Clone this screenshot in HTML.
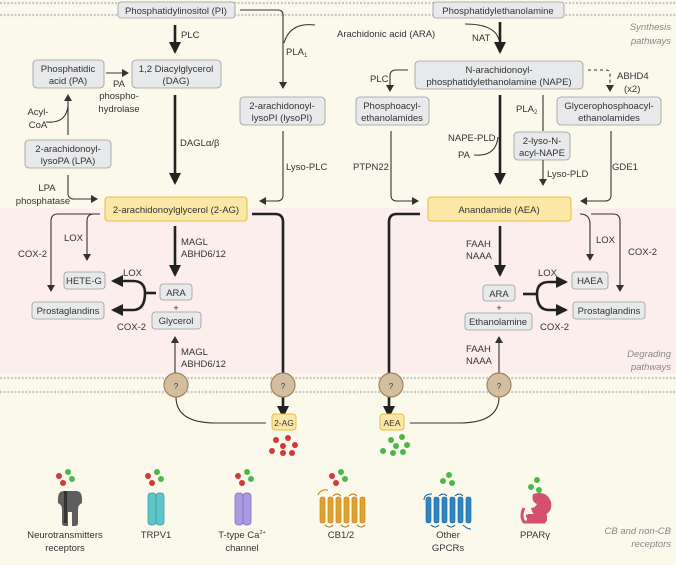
<!DOCTYPE html>
<html><head><meta charset="utf-8"><style>
html,body{margin:0;padding:0;background:#fbf9ec;}
svg{display:block;font-family:"Liberation Sans",sans-serif;}
text{font-size:9.5px;fill:#333;}
.b{fill:#e8e9eb;stroke:#9a9a9a;stroke-width:0.8;}
.y{fill:#fbe7a6;stroke:#e5be45;stroke-width:1;}
.l{fill:none;stroke:#333;stroke-width:1.1;}
.t{fill:none;stroke:#222;stroke-width:2.6;}
.it{font-style:italic;fill:#888;}
.m{stroke:#c8c8c8;stroke-width:2.2;stroke-dasharray:2 1.6;}
.q{fill:#d3bf9f;stroke:#9e8460;stroke-width:1.2;}
</style></head><body>
<svg width="676" height="565" viewBox="0 0 676 565">
<defs>
<marker id="a" markerWidth="8" markerHeight="8" refX="6" refY="4" orient="auto" markerUnits="userSpaceOnUse"><path d="M0,0L7,4L0,8z" fill="#333"/></marker>
<marker id="A" markerWidth="14" markerHeight="12" refX="10" refY="6" orient="auto" markerUnits="userSpaceOnUse"><path d="M0,0L12,6L0,12z" fill="#222"/></marker>
</defs>
<rect x="0" y="0" width="676" height="208" fill="#fbf9ec"/>
<rect x="0" y="208" width="676" height="166" fill="#fdeeee"/>
<rect x="0" y="374" width="676" height="191" fill="#fbf9ec"/>
<line class="m" x1="0" y1="3" x2="676" y2="3"/><line class="m" x1="0" y1="15" x2="676" y2="15"/>
<line class="m" x1="0" y1="378" x2="676" y2="378"/><line class="m" x1="0" y1="392" x2="676" y2="392"/>

<!-- top boxes -->
<rect class="b" x="118" y="2" width="117" height="16" rx="3"/><text x="176" y="14" text-anchor="middle">Phosphatidylinositol (PI)</text>
<rect class="b" x="433" y="2" width="131" height="16" rx="3"/><text x="498" y="14" text-anchor="middle">Phosphatidylethanolamine</text>
<text class="it" x="671" y="30" text-anchor="end">Synthesis</text><text class="it" x="671" y="44" text-anchor="end">pathways</text>

<!-- left synthesis -->
<path class="t" d="M175,25V52" marker-end="url(#A)"/><text x="181" y="38">PLC</text>
<path class="l" d="M240,10H278q5,0 5,5V88" marker-end="url(#a)"/>
<path class="l" d="M315,25q-25,-3 -31,18"/><text x="286" y="55">PLA<tspan font-size="6" dy="2">1</tspan></text>
<text x="337" y="37">Arachidonic acid (ARA)</text>
<rect class="b" x="33" y="60" width="71" height="28" rx="4"/><text x="68" y="72" text-anchor="middle">Phosphatidic</text><text x="68" y="84" text-anchor="middle">acid (PA)</text>
<rect class="b" x="132" y="60" width="89" height="28" rx="4"/><text x="176" y="72" text-anchor="middle">1,2 Diacylglycerol</text><text x="176" y="84" text-anchor="middle">(DAG)</text>
<path class="l" d="M106,73H128" marker-end="url(#a)"/>
<text x="119" y="87" text-anchor="middle">PA</text><text x="119" y="99" text-anchor="middle">phospho-</text><text x="119" y="112" text-anchor="middle">hydrolase</text>
<path class="t" d="M175,95V183" marker-end="url(#A)"/><text x="180" y="146">DAGLα/β</text>
<rect class="b" x="240" y="97" width="85" height="28" rx="4"/><text x="282" y="109" text-anchor="middle">2-arachidonoyl-</text><text x="282" y="121" text-anchor="middle">lysoPI (lysoPI)</text>
<path class="l" d="M283,131V195q0,6 -6,6H260" marker-end="url(#a)"/><text x="286" y="170">Lyso-PLC</text>
<rect class="b" x="25" y="140" width="86" height="28" rx="4"/><text x="68" y="152" text-anchor="middle">2-arachidonoyl-</text><text x="68" y="164" text-anchor="middle">lysoPA (LPA)</text>
<path class="l" d="M68,135V95" marker-end="url(#a)"/>
<path class="l" d="M46,122q20,2 22,-16"/>
<text x="38" y="115" text-anchor="middle">Acyl-</text><text x="38" y="128" text-anchor="middle">CoA</text>
<path class="l" d="M68,175V193q0,6 6,6H97" marker-end="url(#a)"/>
<text x="47" y="191" text-anchor="middle">LPA</text><text x="43" y="204" text-anchor="middle">phosphatase</text>
<rect class="y" x="105" y="197" width="142" height="24" rx="3"/><text x="176" y="213" text-anchor="middle">2-arachidonoylglycerol (2-AG)</text>

<!-- right synthesis -->
<path class="t" d="M500,22V52" marker-end="url(#A)"/><path class="l" d="M465,24q30,0 34,16"/><text x="472" y="41">NAT</text>
<rect class="b" x="415" y="61" width="168" height="28" rx="4"/><text x="499" y="73" text-anchor="middle">N-arachidonoyl-</text><text x="499" y="85" text-anchor="middle">phosphatidylethanolamine (NAPE)</text>
<path class="l" d="M408,70H396q-6,0 -6,6V91" marker-end="url(#a)"/><text x="370" y="82">PLC</text>
<path class="l" d="M588,70H606q4,0 4,4V91" stroke-dasharray="3 3" marker-end="url(#a)"/>
<text x="617" y="79">ABHD4</text><text x="624" y="92">(x2)</text>
<rect class="b" x="356" y="97" width="73" height="28" rx="4"/><text x="392" y="109" text-anchor="middle">Phosphoacyl-</text><text x="392" y="121" text-anchor="middle">ethanolamides</text>
<rect class="b" x="557" y="97" width="104" height="28" rx="4"/><text x="609" y="109" text-anchor="middle">Glycerophosphoacyl-</text><text x="609" y="121" text-anchor="middle">ethanolamides</text>
<path class="t" d="M500,95V183" marker-end="url(#A)"/><text x="448" y="141">NAPE-PLD</text><text x="458" y="158">PA</text>
<path class="l" d="M474,155q22,2 24,-18"/>
<path class="l" d="M543,95V131"/><text x="516" y="112">PLA<tspan font-size="6" dy="2">2</tspan></text>
<rect class="b" x="514" y="132" width="56" height="28" rx="4"/><text x="542" y="144" text-anchor="middle">2-lyso-N-</text><text x="542" y="156" text-anchor="middle">acyl-NAPE</text>
<path class="l" d="M543,160V185" marker-end="url(#a)"/><text x="547" y="177">Lyso-PLD</text>
<path class="l" d="M391,131V195q0,6 6,6H418" marker-end="url(#a)"/><text x="353" y="170">PTPN22</text>
<path class="l" d="M611,131V195q0,6 -6,6H581" marker-end="url(#a)"/><text x="612" y="170">GDE1</text>
<rect class="y" x="428" y="197" width="143" height="24" rx="3"/><text x="499" y="213" text-anchor="middle">Anandamide (AEA)</text>

<!-- left degradation -->
<path class="l" d="M97,214H58q-7,0 -7,7V291" marker-end="url(#a)"/>
<path class="l" d="M100,214H94q-7,0 -7,7V260" marker-end="url(#a)"/>
<text x="18" y="257">COX-2</text><text x="64" y="241">LOX</text>
<path class="t" d="M175,226V275" marker-end="url(#A)"/><text x="181" y="245">MAGL</text><text x="181" y="257">ABHD6/12</text>
<rect class="b" x="64" y="272" width="41" height="17" rx="3"/><text x="84" y="284" text-anchor="middle">HETE-G</text>
<rect class="b" x="32" y="302" width="72" height="17" rx="3"/><text x="68" y="314" text-anchor="middle">Prostaglandins</text>
<rect class="b" x="160" y="284" width="32" height="16" rx="3"/><text x="176" y="296" text-anchor="middle">ARA</text>
<text x="176" y="311" text-anchor="middle">+</text>
<rect class="b" x="152" y="312" width="49" height="17" rx="3"/><text x="176" y="324" text-anchor="middle">Glycerol</text>
<path class="t" d="M156,293H145"/><path class="t" d="M145,293q0,-12 -12,-12H113" marker-end="url(#A)"/><path class="t" d="M145,293q0,17 -12,17H113" marker-end="url(#A)"/>
<text x="123" y="276">LOX</text><text x="117" y="330">COX-2</text>
<path class="l" d="M175,373V337" marker-end="url(#a)"/><text x="181" y="355">MAGL</text><text x="181" y="367">ABHD6/12</text>
<path class="t" d="M252,214H275q8,0 8,8V416" marker-end="url(#A)"/>
<path class="l" d="M176,397q0,26 40,26H266"/>
<rect class="y" x="272" y="414" width="24" height="16" rx="3"/><text x="284" y="426" text-anchor="middle" style="font-size:8.5px">2-AG</text>
<circle class="q" cx="176" cy="385" r="12"/><text x="176" y="389" text-anchor="middle" style="font-size:8px">?</text>
<circle class="q" cx="283" cy="385" r="12"/><text x="283" y="389" text-anchor="middle" style="font-size:8px">?</text>
<g fill="#d33a35"><circle cx="276" cy="440" r="3"/><circle cx="288" cy="438" r="3"/><circle cx="283" cy="446" r="3"/><circle cx="295" cy="445" r="3"/><circle cx="272" cy="451" r="3"/><circle cx="283" cy="453" r="3"/><circle cx="292" cy="453" r="3"/></g>

<!-- right degradation -->
<path class="t" d="M420,214H397q-8,0 -8,8V416" marker-end="url(#A)"/>
<path class="t" d="M500,226V275" marker-end="url(#A)"/><text x="466" y="247">FAAH</text><text x="466" y="259">NAAA</text>
<rect class="b" x="483" y="285" width="32" height="16" rx="3"/><text x="499" y="297" text-anchor="middle">ARA</text>
<text x="499" y="311" text-anchor="middle">+</text>
<rect class="b" x="465" y="313" width="67" height="17" rx="3"/><text x="498" y="325" text-anchor="middle">Ethanolamine</text>
<path class="t" d="M523,294H537"/><path class="t" d="M537,294q0,-12 12,-12H566" marker-end="url(#A)"/><path class="t" d="M537,294q0,16 12,16H566" marker-end="url(#A)"/>
<text x="538" y="276">LOX</text><text x="540" y="330">COX-2</text>
<rect class="b" x="572" y="272" width="36" height="17" rx="3"/><text x="590" y="284" text-anchor="middle">HAEA</text>
<rect class="b" x="573" y="302" width="72" height="17" rx="3"/><text x="609" y="314" text-anchor="middle">Prostaglandins</text>
<path class="l" d="M580,214q10,0 10,10V260" marker-end="url(#a)"/>
<path class="l" d="M591,214H613q7,0 7,7V291" marker-end="url(#a)"/>
<text x="596" y="243">LOX</text><text x="628" y="255">COX-2</text>
<path class="l" d="M499,373V337" marker-end="url(#a)"/><text x="466" y="352">FAAH</text><text x="466" y="364">NAAA</text>
<text class="it" x="671" y="357" text-anchor="end">Degrading</text><text class="it" x="671" y="370" text-anchor="end">pathways</text>
<path class="l" d="M499,397q0,26 -40,26H410"/>
<rect class="y" x="380" y="414" width="24" height="16" rx="3"/><text x="392" y="426" text-anchor="middle" style="font-size:8.5px">AEA</text>
<circle class="q" cx="391" cy="385" r="12"/><text x="391" y="389" text-anchor="middle" style="font-size:8px">?</text>
<circle class="q" cx="499" cy="385" r="12"/><text x="499" y="389" text-anchor="middle" style="font-size:8px">?</text>
<g fill="#4db748"><circle cx="391" cy="440" r="3"/><circle cx="402" cy="437" r="3"/><circle cx="396" cy="446" r="3"/><circle cx="407" cy="445" r="3"/><circle cx="383" cy="451" r="3"/><circle cx="393" cy="453" r="3"/><circle cx="403" cy="452" r="3"/></g>

<!-- receptors -->
<g id="dots">
<g fill="#d33a35"><circle cx="59" cy="476" r="3"/><circle cx="63" cy="483" r="3"/><circle cx="148" cy="476" r="3"/><circle cx="152" cy="483" r="3"/><circle cx="238" cy="476" r="3"/><circle cx="242" cy="483" r="3"/><circle cx="332" cy="476" r="3"/><circle cx="336" cy="483" r="3"/></g>
<g fill="#4db748"><circle cx="68" cy="472" r="3"/><circle cx="72" cy="479" r="3"/><circle cx="157" cy="472" r="3"/><circle cx="161" cy="479" r="3"/><circle cx="247" cy="472" r="3"/><circle cx="251" cy="479" r="3"/><circle cx="341" cy="472" r="3"/><circle cx="345" cy="479" r="3"/><circle cx="449" cy="475" r="3"/><circle cx="443" cy="481" r="3"/><circle cx="452" cy="483" r="3"/><circle cx="537" cy="480" r="3"/><circle cx="531" cy="487" r="3"/><circle cx="539" cy="490" r="3"/></g>
</g>
<!-- neurotransmitter -->
<path d="M56,491h20q6,0 6,8v4q-4,2 -4,6v14q0,3 -3,3h-3v-14h-4v14h-3q-3,0 -3,-3v-14q0,-4 -4,-6v-4q0,-8 6,-8z" fill="#5e5e5e"/><rect x="64" y="491" width="3" height="32" fill="#333"/>
<!-- TRPV1 -->
<rect x="148" y="493" width="8" height="32" rx="3" fill="#5fc5c9" stroke="#3a9ea2" stroke-width="0.8"/><rect x="156" y="493" width="8" height="32" rx="3" fill="#5fc5c9" stroke="#3a9ea2" stroke-width="0.8"/>
<!-- T-type -->
<rect x="235" y="493" width="8" height="32" rx="3" fill="#a99be0" stroke="#7d6fc0" stroke-width="0.8"/><rect x="243" y="493" width="8" height="32" rx="3" fill="#a99be0" stroke="#7d6fc0" stroke-width="0.8"/>
<!-- CB1/2 -->
<g fill="#e0a330" stroke="#b57c17" stroke-width="0.6"><rect x="320" y="497" width="5" height="26" rx="2"/><rect x="328" y="497" width="5" height="26" rx="2"/><rect x="336" y="497" width="5" height="26" rx="2"/><rect x="344" y="497" width="5" height="26" rx="2"/><rect x="352" y="497" width="5" height="26" rx="2"/><rect x="360" y="497" width="5" height="26" rx="2"/></g>
<path d="M318,495q2,-6 10,-5M325,525q4,4 8,0M341,525q4,4 8,0M357,525q4,4 8,0M333,496q4,-4 8,0M349,496q4,-4 8,0" fill="none" stroke="#b57c17" stroke-width="1"/>
<!-- GPCR -->
<g fill="#2f86c2" stroke="#1e5f90" stroke-width="0.6"><rect x="426" y="497" width="5" height="26" rx="2"/><rect x="434" y="497" width="5" height="26" rx="2"/><rect x="442" y="497" width="5" height="26" rx="2"/><rect x="450" y="497" width="5" height="26" rx="2"/><rect x="458" y="497" width="5" height="26" rx="2"/><rect x="466" y="497" width="5" height="26" rx="2"/></g>
<path d="M424,500q0,-6 8,-6M431,525q4,4 8,0M447,525q4,4 8,0M463,525q4,4 8,4M439,496q4,-4 8,0M455,496q4,-4 8,0" fill="none" stroke="#1e5f90" stroke-width="1"/>
<!-- PPAR -->
<path d="M533,494q14,-4 18,8q2,10 -8,14q-10,2 -12,-8q4,0 6,-4q-6,-2 -4,-10z" fill="#d4506f"/>
<path d="M524,508q-4,8 0,14h20v-6h-18" fill="none" stroke="#d4506f" stroke-width="3"/>
<rect x="527" y="514" width="20" height="8" rx="2" fill="#d4506f"/>
<text x="65" y="538" text-anchor="middle">Neurotransmitters</text><text x="65" y="551" text-anchor="middle">receptors</text>
<text x="156" y="538" text-anchor="middle">TRPV1</text>
<text x="242" y="538" text-anchor="middle">T-type Ca<tspan font-size="5.5" dy="-4">2+</tspan></text><text x="242" y="551" text-anchor="middle">channel</text>
<text x="341" y="538" text-anchor="middle">CB1/2</text>
<text x="448" y="538" text-anchor="middle">Other</text><text x="448" y="551" text-anchor="middle">GPCRs</text>
<text x="535" y="538" text-anchor="middle">PPARγ</text>
<text class="it" x="671" y="534" text-anchor="end">CB and non-CB</text><text class="it" x="671" y="547" text-anchor="end">receptors</text>
</svg>
</body></html>
